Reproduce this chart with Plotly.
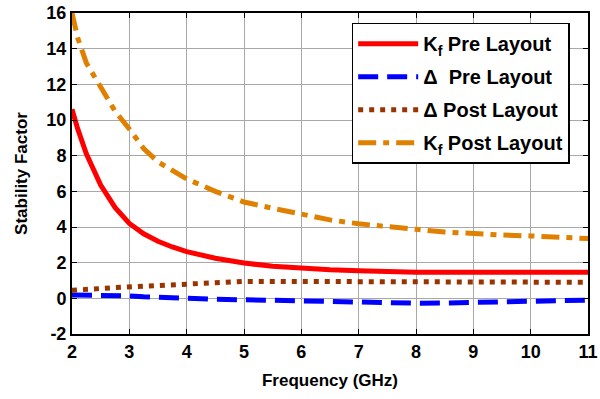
import plotly.graph_objects as go

freq = [2.0, 2.1, 2.25, 2.5, 2.75, 3.0, 3.25, 3.5, 3.75, 4.0, 4.5, 5.0, 5.5, 6.0, 6.5, 7.0, 7.5, 8.0, 8.5, 9.0, 9.5, 10.0, 10.5, 11.0]
kf_pre = [10.6, 9.5, 8.1, 6.35, 5.1, 4.2, 3.62, 3.2, 2.88, 2.62, 2.25, 1.98, 1.8, 1.68, 1.6, 1.55, 1.47, 1.46, 1.46, 1.46, 1.46, 1.46, 1.46, 1.46]
delta_pre = [0.18, 0.18, 0.17, 0.16, 0.15, 0.14, 0.09, 0.05, 0.02, 0.0, -0.05, -0.08, -0.12, -0.16, -0.2, -0.25, -0.27, -0.27, -0.26, -0.24, -0.15, -0.13, -0.12, -0.1]
delta_post = [0.45, 0.48, 0.5, 0.55, 0.6, 0.64, 0.72, 0.78, 0.8, 0.85, 0.9, 0.95, 0.95, 0.95, 0.95, 0.95, 0.95, 0.93, 0.9, 0.88, 0.88, 0.9, 0.9, 0.9]
kf_post = [16.0, 14.6, 13.2, 11.8, 10.5, 9.5, 8.4, 7.65, 7.15, 6.7, 6.0, 5.4, 5.05, 4.75, 4.4, 4.18, 4.0, 3.87, 3.72, 3.62, 3.55, 3.5, 3.43, 3.35]

x_ticks = [2, 3, 4, 5, 6, 7, 8, 9, 10, 11]
y_ticks = [-2, 0, 2, 4, 6, 8, 10, 12, 14, 16]

fig = go.Figure()
fig.add_trace(go.Scatter(x=freq, y=kf_pre, mode="lines", name="K<sub>f</sub> Pre Layout",
                         legendgroup="a", line=dict(color="#FF0000", width=5)))
fig.add_trace(go.Scatter(x=freq, y=delta_pre, mode="lines", name="Δ  Pre Layout",
                         legendgroup="b", line=dict(color="#0000FF", width=5, dash="20px,9px")))
fig.add_trace(go.Scatter(x=freq, y=delta_post, mode="lines", name="Δ Post Layout",
                         legendgroup="c", line=dict(color="#993300", width=5, dash="5px,6px")))
fig.add_trace(go.Scatter(x=freq, y=kf_post, mode="lines", name="K<sub>f</sub> Post Layout",
                         legendgroup="d", line=dict(color="#E08000", width=5, dash="18px,7px,6px,7px")))

font_family = "Liberation Sans, Arial, sans-serif"
fig.update_layout(
    width=600, height=399,
    margin=dict(l=72, r=12, t=13, b=65),
    paper_bgcolor="white", plot_bgcolor="white",
    font=dict(family=font_family, size=17, color="black"),
    showlegend=True,
    legend=dict(x=0.542, y=0.97, xanchor="left", yanchor="top",
                bgcolor="white", bordercolor="black", borderwidth=1.5,
                font=dict(size=20, family=font_family, color="black", weight="bold"),
                itemwidth=60, tracegroupgap=4),
    xaxis=dict(range=[2, 11], tickvals=x_ticks, ticktext=[str(v) for v in x_ticks],
               showgrid=True, gridcolor="#a8a8a8", gridwidth=1,
               showline=True, linecolor="black", linewidth=2, mirror="ticks",
               ticks="inside", ticklen=5, tickcolor="black", automargin=False,
               tickfont=dict(size=18, weight="bold"),
               title=dict(text="Frequency (GHz)", font=dict(size=17, weight="bold"), standoff=14),
               zeroline=False),
    yaxis=dict(range=[-2, 16], tickvals=y_ticks, ticktext=[str(v) for v in y_ticks],
               showgrid=True, gridcolor="#a8a8a8", gridwidth=1,
               showline=True, linecolor="black", linewidth=2, mirror="ticks",
               ticks="inside", ticklen=5, tickcolor="black", automargin=False,
               tickfont=dict(size=18, weight="bold"),
               title=dict(text="Stability Factor", font=dict(size=17, weight="bold"), standoff=14),
               zeroline=False),
)
fig.write_html("out.html")
